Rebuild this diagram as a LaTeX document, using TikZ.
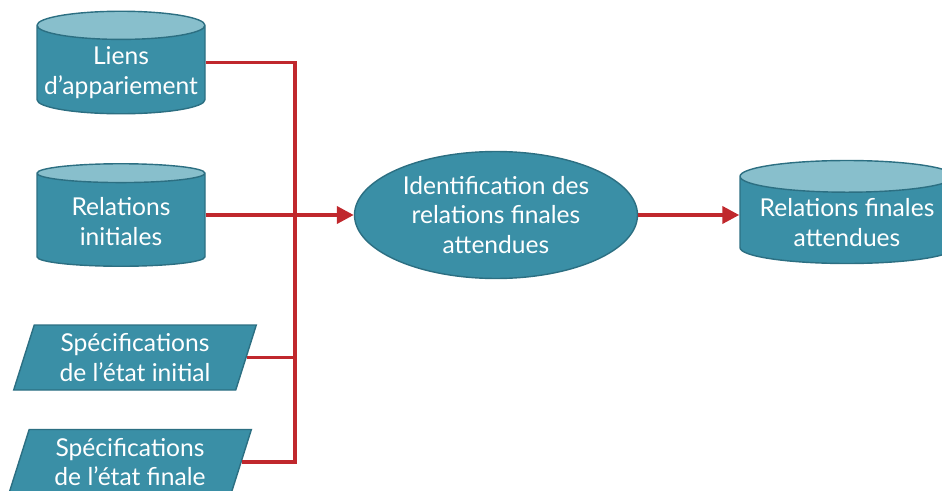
\documentclass[tikz,border=0pt]{standalone}
\usepackage{fontspec}
\setmainfont{Lato}
\usepackage{xcolor}
\usepackage{tikz}
\usetikzlibrary{arrows.meta, positioning, shapes.geometric, shadows}

\definecolor{tealfill}{HTML}{3A8FA6}
\definecolor{tealtop}{HTML}{88BFCC}
\definecolor{tealline}{HTML}{2C6F82}
\definecolor{linkred}{HTML}{C0282D}

\begin{document}
\begin{tikzpicture}[
    dbase/.style={cylinder, shape border rotate=90, aspect=0.17, draw=tealline, thick, cylinder uses custom fill, cylinder body fill=tealfill, cylinder end fill=tealtop, minimum width=3.36cm, minimum height=2.05cm, anchor=shape center, align=center, text=white, font=\fontsize{14}{17}\selectfont},
    dataio/.style={trapezium, trapezium left angle=74.5, trapezium right angle=105.5, trapezium stretches=true, draw=tealline, thick, fill=tealfill, minimum width=4.86cm, minimum height=1.3cm, align=center, text=white, font=\fontsize{14}{17}\selectfont},
    process/.style={ellipse, draw=tealline, thick, fill=tealfill, minimum width=5.66cm, minimum height=2.4cm, align=center, text=white, font=\fontsize{14}{17}\selectfont},
    link/.style={draw=linkred, line width=2.2pt},
    arrow/.style={link, -{Triangle[length=3.4mm, width=3.4mm]}},
  ]
  \useasboundingbox (0,0) rectangle (18.84,9.8);

  \node[dbase] (liens) at (2.42,8.55) {Liens\\d'appariement};
  \node[dbase] (relini) at (2.42,5.5) {Relations\\initiales};
  \node[dataio] (specini) at (2.7,2.65) {Spécifications\\de l'état initial};
  \node[dataio] (specfin) at (2.6,0.56) {Spécifications\\de l'état finale};
  \node[process] (ident) at (9.92,5.5) {Identification des\\relations finales\\attendues};
  \node[dbase, minimum width=4.28cm, minimum height=1.95cm] (relfin) at (16.94,5.56) {Relations finales\\attendues};

  \coordinate (bus) at (5.9,5.5);

  \draw[link] (liens.east |- liens.shape center) -| (bus);
  \draw[link] (specini.east) -| (bus);
  \draw[link] (specfin.east) -| (bus);
  \draw[arrow] (relini.east |- relini.shape center) -- (ident.west);
  \draw[arrow] (ident.east) -- (relfin.west |- ident.east);

\end{tikzpicture}
\end{document}
